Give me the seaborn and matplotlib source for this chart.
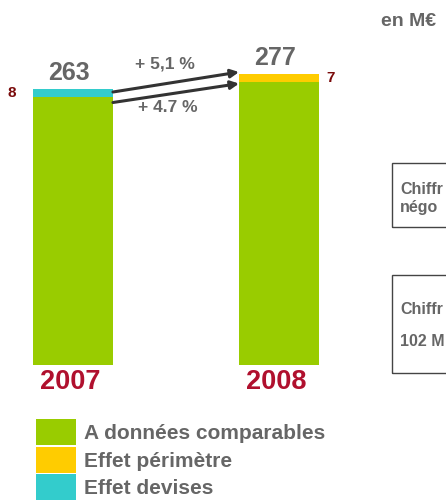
import seaborn as sns
import matplotlib.pyplot as plt
from matplotlib.patches import Patch, Rectangle

# data
years = ['2007', '2008']
comparables = [255, 270]
totals = [263, 277]
effets = [8, 7]  # 2007: effet devises, 2008: effet perimetre
growth = ['+ 5,1 %', '+ 4.7 %']
legend_labels = ['A données comparables', 'Effet périmètre', 'Effet devises']
box_texts = ['Chiffr', 'négo', 'Chiffr', '102 M']

GREEN = '#99CC00'
YELLOW = '#FFCC00'
CYAN = '#33CCCC'
GREY = '#666666'
RED = '#B0102E'
MAROON = '#7A0A0A'

sns.set_style('white')
plt.rcParams['font.family'] = ['Liberation Sans', 'DejaVu Sans']
plt.rcParams['font.weight'] = 'bold'

W, H = 446, 500
fig = plt.figure(figsize=(W / 100, H / 100), dpi=100)
ax = fig.add_axes([0, 0, 1, 1])

def fx(px):
    return px / W

def fy(py):
    return 1 - py / H

bar_w = 0.388
# top segments (devises / perimetre) drawn as total bars, then comparable part on top
sns.barplot(x=years, y=totals, hue=years, palette=[CYAN, YELLOW], width=bar_w,
            legend=False, ax=ax, saturation=1, linewidth=0, edgecolor='none')
sns.barplot(x=years, y=comparables, color=GREEN, width=bar_w, ax=ax,
            saturation=1, linewidth=0, edgecolor='none')

scale = 1.05  # px per unit
ax.set_xlim(-73 / 206, (W - 73) / 206)
ax.set_ylim(-(H - 365) / scale, 365 / scale)
ax.axis('off')

# value labels, years, effect labels
for i, (yr, tot, eff) in enumerate(zip(years, totals, effets)):
    ax.annotate(str(tot), (i, tot), xytext=(-4, 4), textcoords='offset pixels',
                ha='center', va='bottom', fontsize=18, color=GREY, fontweight='bold')
    ax.annotate(yr, (i, 0), xytext=(-3, -4), textcoords='offset pixels',
                ha='center', va='top', fontsize=19.5, color=RED, fontweight='bold')
    side = -1 if i == 0 else 1
    off = -21 if i == 0 else 12
    ax.annotate(str(eff), (i + side * bar_w / 2, tot - eff / 2), xytext=(off, 0),
                textcoords='offset pixels', ha='center', va='center',
                fontsize=11, color=MAROON, fontweight='bold')

# growth arrows
arrow = dict(arrowstyle='-|>', color='#333333', lw=2.2, mutation_scale=12,
             shrinkA=0, shrinkB=0)
ax.annotate('', xy=(1 - bar_w / 2, totals[1] + 2), xytext=(bar_w / 2, totals[0] - 3),
            arrowprops=arrow)
ax.annotate('', xy=(1 - bar_w / 2, comparables[1] - 2), xytext=(bar_w / 2, comparables[0] - 5),
            arrowprops=arrow)
fig.text(fx(165), fy(64), growth[0], ha='center', va='center', fontsize=12.5,
         color=GREY, fontweight='bold')
fig.text(fx(168), fy(108), growth[1], ha='center', va='center', fontsize=12.5,
         color=GREY, fontweight='bold')

# unit
fig.text(fx(381), fy(21), 'en M€', ha='left', va='center', fontsize=14,
         color=GREY, fontweight='bold')

# side boxes (cut off at the right edge)
for top, bottom in [(163, 227), (275, 373)]:
    fig.patches.append(Rectangle((fx(392), fy(bottom)), fx(80), fy(top) - fy(bottom),
                                 transform=fig.transFigure, fill=False,
                                 edgecolor='#444444', lw=1))
for txt, y in zip(box_texts, [190, 208, 310, 341]):
    fig.text(fx(400), fy(y), txt, ha='left', va='center', fontsize=11.5,
             color=GREY, fontweight='bold')

# legend
handles = [Patch(facecolor=c, edgecolor='none') for c in [GREEN, YELLOW, CYAN]]
fig.legend(handles, legend_labels, loc='upper left', bbox_to_anchor=(fx(36), fy(419)),
           frameon=False, borderpad=0, borderaxespad=0, handlelength=1.9,
           handleheight=1.56, labelspacing=0.07, handletextpad=0.4,
           prop={'size': 15, 'weight': 'bold'}, labelcolor=GREY)

fig.savefig('out.png', dpi=100)
